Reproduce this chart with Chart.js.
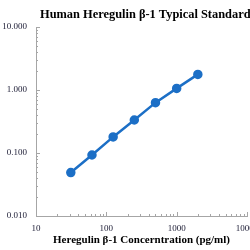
<!DOCTYPE html>
<html>
<head>
<meta charset="utf-8">
<script src="https://cdn.jsdelivr.net/npm/chart.js@4"></script>
<style>
  html, body { margin: 0; padding: 0; background: #fff; overflow: hidden; width: 250px; height: 250px; }
  #wrap { width: 290px; height: 250px; }
</style>
</head>
<body>
<div id="wrap"><canvas id="curve" width="290" height="250"></canvas></div>
<script>
// standard curve values
const concentrations = [31.25, 62.5, 125, 250, 500, 1000, 2000];
const odValues = [0.049, 0.093, 0.18, 0.334, 0.63, 1.06, 1.77];
const xTicks = [10, 100, 1000, 10000];
const yTicks = [0.01, 0.1, 1, 10];
const titleText = 'Human Heregulin β-1 Typical Standard Curve';
const xTitle = 'Heregulin β-1 Concerntration (pg/ml)';

const blue = '#1c6fc6';
const axisGrey = '#a6a6a6';
const tickColor = '#1a1a33';

// title plus small inward log ticks, like the original
const extras = {
    id: 'extras',
    afterDraw(chart) {
        const ctx = chart.ctx;
        const area = chart.chartArea;
        const xs = chart.scales.x;
        const ys = chart.scales.y;

        ctx.save();
        ctx.fillStyle = '#000';
        ctx.font = 'bold 12.4px "Liberation Serif"';
        ctx.textBaseline = 'middle';
        ctx.fillText(titleText, 40, 15);

        ctx.strokeStyle = axisGrey;
        ctx.lineWidth = 1;
        ctx.beginPath();
        for (let d = 10; d < 10000; d *= 10) {
            for (let m = 1; m <= 10; m++) {
                const px = Math.round(xs.getPixelForValue(d * m)) + 0.5;
                const len = (m === 1 || m === 10) ? 4 : 2;
                ctx.moveTo(px, area.bottom);
                ctx.lineTo(px, area.bottom - len);
            }
        }
        for (let d = 0.01; d < 9; d *= 10) {
            for (let m = 1; m <= 10; m++) {
                const py = Math.round(ys.getPixelForValue(d * m)) + 0.5;
                const len = (m === 1 || m === 10) ? 4 : 2;
                ctx.moveTo(area.left, py);
                ctx.lineTo(area.left + len, py);
            }
        }
        ctx.stroke();
        ctx.restore();
    }
};

new Chart(document.getElementById('curve'), {
    type: 'scatter',
    data: {
        datasets: [{
            data: concentrations.map((c, i) => ({ x: c, y: odValues[i] })),
            showLine: true,
            borderColor: blue,
            backgroundColor: blue,
            borderWidth: 2.5,
            pointRadius: 3.5,
            pointHoverRadius: 3.5
        }]
    },
    options: {
        responsive: false,
        animation: false,
        layout: { padding: { top: 27, right: 43, left: 0, bottom: 0 } },
        plugins: {
            legend: { display: false },
            tooltip: { enabled: false }
        },
        scales: {
            x: {
                type: 'logarithmic',
                min: 10,
                max: 10000,
                afterBuildTicks: (s) => { s.ticks = xTicks.map(v => ({ value: v })); },
                afterFit: (s) => { s.height = 34; },
                grid: { display: false, tickLength: 0 },
                border: { color: axisGrey },
                ticks: {
                    color: tickColor,
                    font: { family: 'Liberation Serif', size: 9 },
                    padding: 7,
                    maxRotation: 0,
                    autoSkip: false,
                    callback: (v) => String(v)
                },
                title: {
                    display: true,
                    text: xTitle,
                    color: '#000',
                    font: { family: 'Liberation Serif', size: 11, weight: 'bold' },
                    padding: { top: 0, bottom: 3 }
                }
            },
            y: {
                type: 'logarithmic',
                min: 0.01,
                max: 10,
                afterBuildTicks: (s) => { s.ticks = yTicks.map(v => ({ value: v })); },
                afterFit: (s) => { s.width = 36; },
                grid: { display: false, tickLength: 0 },
                border: { color: axisGrey },
                ticks: {
                    color: tickColor,
                    font: { family: 'Liberation Serif', size: 9 },
                    padding: 9,
                    autoSkip: false,
                    callback: (v) => Number(v).toFixed(3)
                }
            }
        }
    },
    plugins: [extras]
});
</script>
</body>
</html>
